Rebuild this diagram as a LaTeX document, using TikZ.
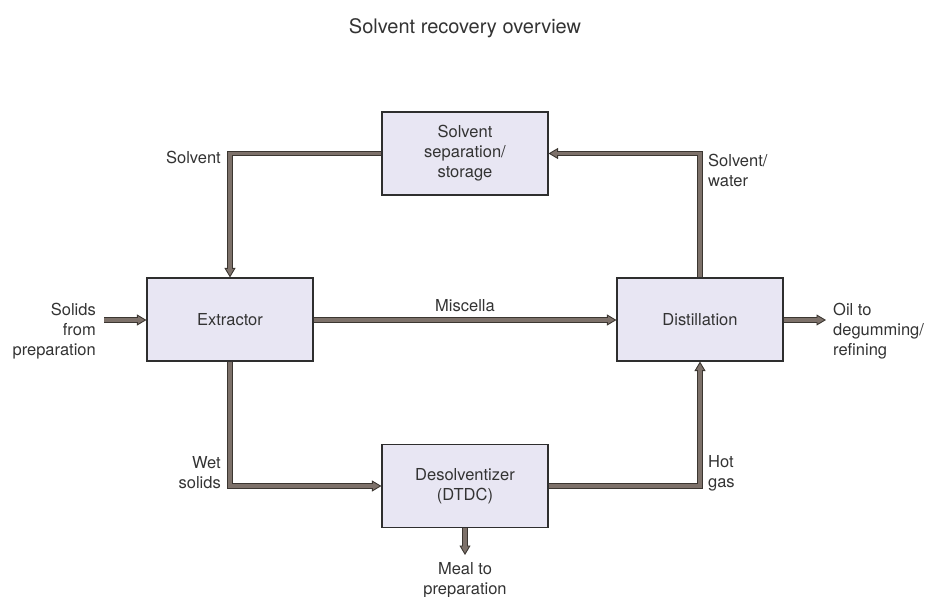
\documentclass[tikz,border=0pt]{standalone}
\usepackage{fontspec}
\setmainfont{TeX Gyre Heros}
\usetikzlibrary{arrows.meta}
\definecolor{boxfill}{HTML}{E8E6F3}
\definecolor{boxedge}{HTML}{2E2E2E}
\definecolor{pipefill}{HTML}{7D716A}
\definecolor{pipeedge}{HTML}{3B3631}
\definecolor{txt}{HTML}{333333}
\tikzset{
  unitbox/.style={draw=boxedge, fill=boxfill, line width=1.1pt, minimum width=166pt, minimum height=83pt, inner sep=0pt, align=center, text=txt, font=\fontsize{16.5}{20}\selectfont},
  lbl/.style={text=txt, font=\fontsize{16.5}{20}\selectfont, inner sep=0pt},
  pipe/.style={draw=pipeedge, line width=5.2pt, line join=miter,
    -{Triangle[length=9.5pt,width=11pt,fill=pipefill,line width=0.9pt]},
    postaction={draw=pipefill, line width=3.2pt, -, shorten >=8pt}},
  pipeplain/.style={draw=pipeedge, line width=5.2pt, line join=miter,
    postaction={draw=pipefill, line width=3.2pt}}
}
\begin{document}
\begin{tikzpicture}[x=1pt,y=-1pt]
\useasboundingbox (0,0) rectangle (930,597);
\node[text=txt, font=\fontsize{20}{24}\selectfont] (title) at (465,28) {Solvent recovery overview};
\node[unitbox] (sep) at (465,153.5) {Solvent\\separation/\\storage};
\node[unitbox] (ext) at (230,319.5) {Extractor};
\node[unitbox] (dist) at (700,319.5) {Distillation};
\node[unitbox] (des) at (465,486) {Desolventizer\\(DTDC)};
\coordinate (in) at (104,320);
\coordinate (oil) at (826,320);
\coordinate (meal) at (465,555);
\draw[pipe] (sep.west) -| (ext.north);
\draw[pipe] (dist.north) |- (sep.east);
\draw[pipe] (ext.south) |- (des.west);
\draw[pipe] (des.east) -| (dist.south);
\draw[pipe] (ext.east |- 0,320) -- (dist.west |- 0,320);
\draw[pipe] (in) -- (ext.west |- in);
\draw[pipe] (dist.east |- oil) -- (oil);
\draw[pipe] (des.south) -- (meal);
\node[lbl, anchor=east] (lsolv) at (221,157) {Solvent};
\node[lbl, anchor=west, align=left] (lsw) at (708,170) {Solvent/\\water};
\node[lbl, anchor=east, align=right] (lsol) at (96,331) {Solids\\from\\preparation};
\node[lbl] (lmis) at (465,306) {Miscella};
\node[lbl, anchor=west, align=left] (loil) at (833,331) {Oil to\\degumming/\\refining};
\node[lbl, anchor=east, align=right] (lwet) at (221,473) {Wet\\solids};
\node[lbl, anchor=west, align=left] (lhot) at (708,473) {Hot\\gas};
\node[lbl, align=center] (lmeal) at (465,580) {Meal to\\preparation};
\end{tikzpicture}
\end{document}
